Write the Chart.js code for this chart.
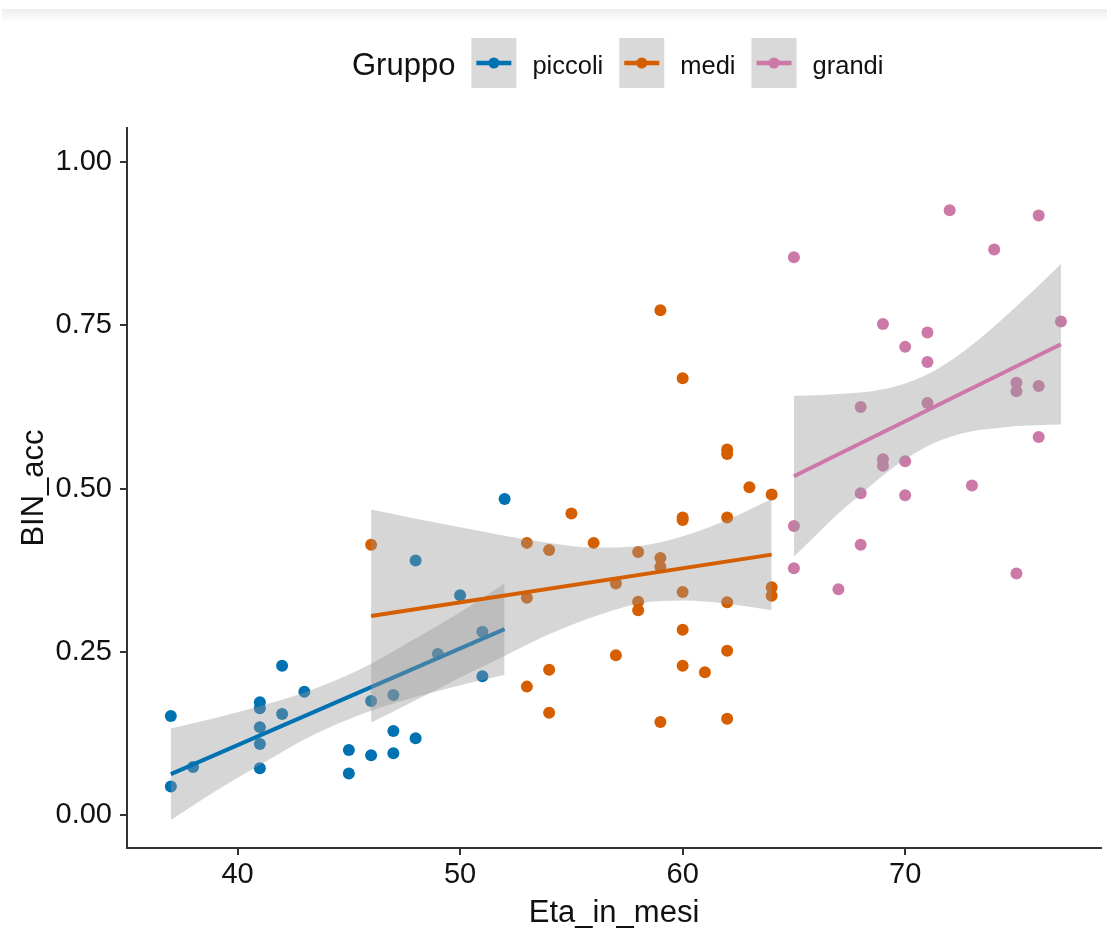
<!DOCTYPE html>
<html>
<head>
<meta charset="utf-8">
<script src="https://cdn.jsdelivr.net/npm/chart.js@4.4.1/dist/chart.umd.min.js"></script>
<style>
  html, body { margin: 0; padding: 0; background: #fff; }
  #wrap { position: relative; width: 1107px; height: 929px; }
  #topbar { position: absolute; left: 2px; right: 0; top: 9px; height: 13px; background: linear-gradient(#eeeeee, #ffffff); }
  canvas { position: absolute; left: 0; top: 0; }
</style>
</head>
<body>
<div id="wrap">
  <div id="topbar"></div>
  <canvas id="chart" width="1107" height="929"></canvas>
</div>
<script>
// groups and colours
const groups = ['piccoli', 'medi', 'grandi'];
const groupColors = ['#0072B2', '#D55E00', '#CC79A7'];
const legendTitle = 'Gruppo';
const xTitle = 'Eta_in_mesi';
const yTitle = 'BIN_acc';
const xTicks = [40, 50, 60, 70];
const yTicks = [0, 0.25, 0.5, 0.75, 1];

// raw points
const piccoliX = [37, 37, 38, 41, 41, 41, 41, 41, 42, 42, 43, 45, 45, 46, 46, 47, 47, 47, 48, 48, 49, 50, 51, 51, 52];
const piccoliY = [0.152, 0.044, 0.074, 0.173, 0.164, 0.135, 0.109, 0.072, 0.229, 0.155, 0.189, 0.100, 0.064, 0.175, 0.092, 0.184, 0.129, 0.095, 0.118, 0.390, 0.247, 0.337, 0.281, 0.213, 0.484];

const mediX = [46, 53, 53, 53, 54, 54, 54, 55, 56, 57, 57, 58, 58, 58, 59, 59, 59, 59, 60, 60, 60, 60, 60, 60, 61, 62, 62, 62, 62, 62, 62, 63, 64, 64, 64];
const mediY = [0.414, 0.417, 0.333, 0.197, 0.406, 0.223, 0.157, 0.462, 0.417, 0.355, 0.245, 0.403, 0.327, 0.314, 0.773, 0.394, 0.380, 0.143, 0.669, 0.456, 0.452, 0.342, 0.284, 0.229, 0.219, 0.560, 0.553, 0.456, 0.326, 0.252, 0.148, 0.502, 0.491, 0.349, 0.336];

const grandiX = [65, 65, 65, 67, 68, 68, 68, 69, 69, 69, 70, 70, 70, 71, 71, 71, 72, 73, 74, 75, 75, 75, 76, 76, 76, 77];
const grandiY = [0.854, 0.443, 0.378, 0.346, 0.625, 0.493, 0.414, 0.752, 0.545, 0.535, 0.717, 0.542, 0.490, 0.739, 0.694, 0.631, 0.926, 0.505, 0.866, 0.662, 0.649, 0.370, 0.918, 0.657, 0.579, 0.756];

// fitted lines (end points) and confidence bands
const piccoliFitX = [37, 52];
const piccoliFitY = [0.063, 0.285];
const piccoliBandX = [37, 39, 41, 43, 44.5, 46, 48, 50, 52];
const piccoliBandHi = [0.133, 0.149, 0.167, 0.188, 0.208, 0.232, 0.271, 0.311, 0.355];
const piccoliBandLo = [-0.007, 0.037, 0.077, 0.116, 0.140, 0.160, 0.181, 0.199, 0.215];

const mediFitX = [46, 64];
const mediFitY = [0.305, 0.399];
const mediBandX = [46, 48, 50, 52, 54, 56, 58, 60, 62, 64];
const mediBandHi = [0.468, 0.454, 0.441, 0.428, 0.417, 0.410, 0.412, 0.427, 0.452, 0.484];
const mediBandLo = [0.142, 0.176, 0.211, 0.244, 0.277, 0.304, 0.324, 0.329, 0.324, 0.314];

const grandiFitX = [65, 77];
const grandiFitY = [0.519, 0.721];
const grandiBandX = [65, 66, 67, 68, 69, 70, 71, 72, 73, 74, 75, 76, 77];
const grandiBandHi = [0.642, 0.643, 0.645, 0.647, 0.652, 0.661, 0.675, 0.695, 0.720, 0.748, 0.779, 0.811, 0.844];
const grandiBandLo = [0.396, 0.429, 0.462, 0.491, 0.520, 0.545, 0.565, 0.579, 0.588, 0.592, 0.596, 0.597, 0.598];

const FONT = '"Liberation Sans", Arial, Helvetica, sans-serif';
const BAND_FILL = 'rgba(153,153,153,0.4)';
const AXIS_COLOR = '#333';

function zip(xs, ys) {
    return xs.map((x, i) => ({ x: x, y: ys[i] }));
}

const pointSets = [[piccoliX, piccoliY], [mediX, mediY], [grandiX, grandiY]];
const fitSets = [[piccoliFitX, piccoliFitY], [mediFitX, mediFitY], [grandiFitX, grandiFitY]];
const bandSets = [
    [piccoliBandX, piccoliBandLo, piccoliBandHi],
    [mediBandX, mediBandLo, mediBandHi],
    [grandiBandX, grandiBandLo, grandiBandHi]
];

const datasets = [];
// points first, drawn below everything (high order = drawn first)
groups.forEach((g, i) => {
    datasets.push({
        type: 'scatter',
        label: g,
        data: zip(pointSets[i][0], pointSets[i][1]),
        backgroundColor: groupColors[i],
        borderWidth: 0,
        pointRadius: 6,
        order: 20
    });
});
// per group: ribbon, then fitted line
groups.forEach((g, i) => {
    const base = 10 - i * 3;
    const loIndex = datasets.length;
    datasets.push({
        type: 'line',
        label: g + ' lo',
        data: zip(bandSets[i][0], bandSets[i][1]),
        borderWidth: 0,
        pointRadius: 0,
        fill: false,
        cubicInterpolationMode: 'monotone',
        order: base
    });
    datasets.push({
        type: 'line',
        label: g + ' hi',
        data: zip(bandSets[i][0], bandSets[i][2]),
        borderWidth: 0,
        pointRadius: 0,
        backgroundColor: BAND_FILL,
        fill: { target: loIndex },
        cubicInterpolationMode: 'monotone',
        order: base
    });
    datasets.push({
        type: 'line',
        label: g + ' fit',
        data: zip(fitSets[i][0], fitSets[i][1]),
        borderColor: groupColors[i],
        borderWidth: 4,
        pointRadius: 0,
        fill: false,
        order: base - 1
    });
});

// legend + axis titles
const extras = {
    id: 'extras',
    afterDraw(chart) {
        const ctx = chart.ctx;
        const area = chart.chartArea;
        ctx.save();
        ctx.fillStyle = '#111';
        ctx.textBaseline = 'alphabetic';

        // axis titles, centred on the panel
        ctx.font = '31px ' + FONT;
        ctx.textAlign = 'center';
        ctx.fillText(xTitle, (area.left + area.right) / 2, 922);
        ctx.save();
        ctx.translate(43, (area.top + area.bottom) / 2);
        ctx.rotate(-Math.PI / 2);
        ctx.fillText(yTitle, 0, 0);
        ctx.restore();

        // legend
        ctx.textAlign = 'left';
        let x = 352;
        ctx.font = '31px ' + FONT;
        ctx.fillText(legendTitle, x, 75);
        x += ctx.measureText(legendTitle).width + 16;
        ctx.font = '25.5px ' + FONT;
        groups.forEach((g, i) => {
            ctx.fillStyle = '#d9d9d9';
            ctx.fillRect(x, 38, 45, 50);
            ctx.strokeStyle = groupColors[i];
            ctx.lineWidth = 4.5;
            ctx.beginPath();
            ctx.moveTo(x + 5, 63);
            ctx.lineTo(x + 40, 63);
            ctx.stroke();
            ctx.fillStyle = groupColors[i];
            ctx.beginPath();
            ctx.arc(x + 22.5, 63, 5.5, 0, Math.PI * 2);
            ctx.fill();
            x += 45 + 16;
            ctx.fillStyle = '#111';
            ctx.fillText(g, x, 74);
            x += ctx.measureText(g).width + 16;
        });
        ctx.restore();
    }
};

new Chart(document.getElementById('chart'), {
    type: 'scatter',
    data: { datasets: datasets },
    options: {
        responsive: false,
        devicePixelRatio: 1,
        animation: false,
        events: [],
        layout: { padding: { top: 128, right: 2, left: 0, bottom: 0 } },
        scales: {
            x: {
                type: 'linear',
                min: 35.03,
                max: 78.8,
                afterBuildTicks: s => { s.ticks = xTicks.map(v => ({ value: v })); },
                afterFit: s => { s.height = 81; },
                ticks: {
                    font: { family: FONT, size: 29 },
                    color: '#111',
                    padding: 3,
                    maxRotation: 0,
                    callback: v => String(v)
                },
                grid: { drawOnChartArea: false, drawTicks: true, tickLength: 7, color: AXIS_COLOR, lineWidth: 2 },
                border: { display: true, color: AXIS_COLOR, width: 2 }
            },
            y: {
                type: 'linear',
                min: -0.05,
                max: 1.052,
                afterBuildTicks: s => { s.ticks = yTicks.map(v => ({ value: v })); },
                afterFit: s => { s.width = 127; },
                ticks: {
                    font: { family: FONT, size: 29 },
                    color: '#111',
                    padding: 8,
                    callback: v => v.toFixed(2)
                },
                grid: { drawOnChartArea: false, drawTicks: true, tickLength: 7, color: AXIS_COLOR, lineWidth: 2 },
                border: { display: true, color: AXIS_COLOR, width: 2 }
            }
        },
        plugins: {
            legend: { display: false },
            tooltip: { enabled: false }
        }
    },
    plugins: [extras]
});
</script>
</body>
</html>
